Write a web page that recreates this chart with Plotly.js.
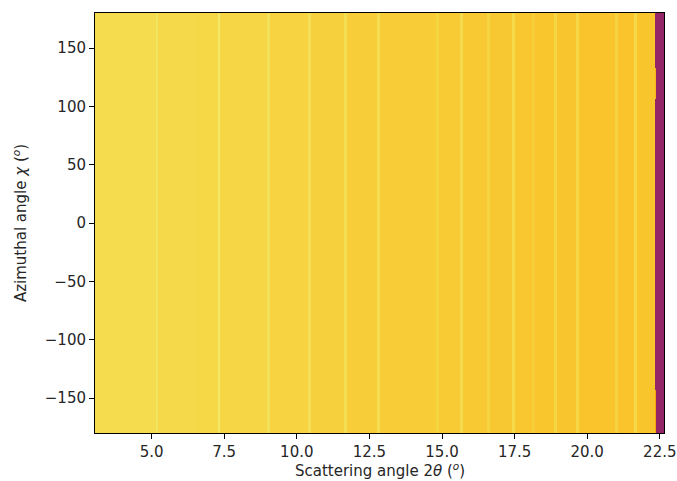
<!DOCTYPE html>
<html>
<head>
<meta charset="utf-8">
<script src="https://cdn.plot.ly/plotly-3.0.1.min.js"></script>
<style>
  html, body { margin: 0; padding: 0; background: #ffffff; }
  #chart { width: 677px; height: 481px; }
</style>
</head>
<body>
<div id="chart"></div>
<script>
// Bin edges along scattering angle 2θ (degrees)
const twoThetaEdges = [
  3.05, 5.14, 5.21, 6.50, 7.27, 7.35, 8.99, 9.07, 10.40, 10.48,
  11.64, 11.72, 12.77, 12.85, 14.81, 14.89, 15.63, 15.71, 16.56, 16.64,
  17.42, 17.50, 18.11, 18.19, 18.87, 18.95, 19.63, 19.71, 20.97, 21.05,
  21.62, 21.70, 22.33, 22.38, 22.645
];
// Normalised (log) intensity for each 2θ bin
const intensity = [
  0.915, 0.950, 0.907, 0.902, 0.955, 0.897, 0.935, 0.892, 0.930,
  0.887, 0.925, 0.882, 0.920, 0.877, 0.895, 0.873, 0.915, 0.871, 0.895,
  0.869, 0.910, 0.866, 0.882, 0.864, 0.897, 0.863, 0.900, 0.861, 0.892,
  0.861, 0.905, 0.862, 0.400, 0.400
];
// Bin edges along azimuthal angle χ (degrees)
const chiEdges = [-180, -143, 106, 133, 180];
// Value of the detector-edge bin (index 32) in each χ band
const edgeBinValue = [0.80, 0.40, 0.83, 0.40];
const edgeBinIndex = 32;

const z = chiEdges.slice(0, -1).map((c, i) => {
  const row = intensity.slice();
  row[edgeBinIndex] = edgeBinValue[i];
  return row;
});

const inferno = [
  [0.0, '#000004'], [0.1, '#160b39'], [0.2, '#420a68'], [0.3, '#6a176e'],
  [0.4, '#932667'], [0.5, '#bc3754'], [0.6, '#dd513a'], [0.7, '#f37819'],
  [0.8, '#fca50a'], [0.85, '#fabf25'], [0.9, '#f6d746'], [0.95, '#f2e661'],
  [1.0, '#fcffa4']
];

const trace = {
  type: 'heatmap',
  x: twoThetaEdges,
  y: chiEdges,
  z: z,
  zmin: 0, zmax: 1,
  colorscale: inferno,
  showscale: false,
  zsmooth: false,
  hoverinfo: 'x+y+z'
};

const FONT = { family: 'DejaVu Sans', size: 15, color: '#262626' };

const axisCommon = {
  showline: true, mirror: true, linecolor: '#000', linewidth: 1,
  ticks: 'outside', ticklen: 5, tickwidth: 1, tickcolor: '#000',
  showgrid: false, zeroline: false,
  tickfont: FONT
};

const layout = {
  width: 677, height: 481,
  margin: { l: 95, r: 13, t: 13, b: 48 },
  paper_bgcolor: '#ffffff', plot_bgcolor: '#ffffff',
  font: FONT,
  xaxis: Object.assign({}, axisCommon, {
    range: [3.05, 22.645],
    tick0: 5, dtick: 2.5, tickformat: '.1f'
  }),
  yaxis: Object.assign({}, axisCommon, {
    range: [-180, 180],
    tick0: 0, dtick: 50,
    title: { text: 'Azimuthal angle <i>χ</i> (<sup><i>o</i></sup>)', standoff: 14, font: FONT }
  }),
  annotations: [{
    text: 'Scattering angle 2<i>θ</i> (<sup><i>o</i></sup>)',
    xref: 'paper', yref: 'paper', x: 0.5, y: -0.089, xanchor: 'center', yanchor: 'middle',
    showarrow: false, font: FONT
  }],
  showlegend: false
};

Plotly.newPlot('chart', [trace], layout, { displayModeBar: false, staticPlot: true });
</script>
</body>
</html>
